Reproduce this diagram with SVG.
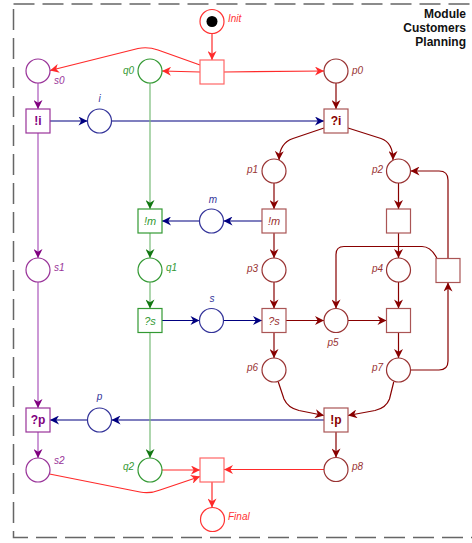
<svg xmlns="http://www.w3.org/2000/svg" width="472" height="543" viewBox="0 0 472 543">
<style>
  .frame{fill:none;stroke:#666;stroke-width:1.5;stroke-dasharray:21 8}
  .title{font:bold 12px "Liberation Sans",Arial,sans-serif;fill:#111;text-anchor:end}
  .lbl{font:italic 10px "Liberation Sans",Arial,sans-serif}
  .tb{font:bold 12px "Liberation Sans",Arial,sans-serif;text-anchor:middle}
  .ti{font:italic 11px "Liberation Sans",Arial,sans-serif;text-anchor:middle}
  circle,rect{fill:#fff;stroke-width:1.2}
  .arc{fill:none;stroke-width:1.2}
  .c-r{stroke:#ff3333}  .t-r{fill:#ff3333}  .a-r{stroke:#ff2a2a;marker-end:url(#ah-r)}  .bx-r{stroke:#ff6666}
  .c-pu{stroke:#993399} .t-pu{fill:#993399} .a-pu{stroke:#aa55bb;marker-end:url(#ah-pu)} .tt-pu{fill:#800080}
  .c-g{stroke:#339933}  .t-g{fill:#339933}  .a-g{stroke:#77bb77;marker-end:url(#ah-g)}
  .c-b{stroke:#333399}  .t-b{fill:#333399}  .a-b{stroke:#000080;marker-end:url(#ah-b)}
  .c-d{stroke:#993333}  .t-d{fill:#993333}  .a-d{stroke:#880000;marker-end:url(#ah-d)} .bx-d{stroke:#aa5555} .tt-d{fill:#880000}
</style>
<defs>
  <marker id="ah-r" viewBox="0 0 10 10" markerWidth="10" markerHeight="9" refX="10" refY="5" orient="auto" markerUnits="userSpaceOnUse"><path d="M0,0 L10,5 L0,10 L3,5 Z" fill="#ff2a2a"/></marker>
  <marker id="ah-pu" viewBox="0 0 10 10" markerWidth="10" markerHeight="9" refX="10" refY="5" orient="auto" markerUnits="userSpaceOnUse"><path d="M0,0 L10,5 L0,10 L3,5 Z" fill="#800080"/></marker>
  <marker id="ah-g" viewBox="0 0 10 10" markerWidth="10" markerHeight="9" refX="10" refY="5" orient="auto" markerUnits="userSpaceOnUse"><path d="M0,0 L10,5 L0,10 L3,5 Z" fill="#117711"/></marker>
  <marker id="ah-b" viewBox="0 0 10 10" markerWidth="10" markerHeight="9" refX="10" refY="5" orient="auto" markerUnits="userSpaceOnUse"><path d="M0,0 L10,5 L0,10 L3,5 Z" fill="#000080"/></marker>
  <marker id="ah-d" viewBox="0 0 10 10" markerWidth="10" markerHeight="9" refX="10" refY="5" orient="auto" markerUnits="userSpaceOnUse"><path d="M0,0 L10,5 L0,10 L3,5 Z" fill="#880000"/></marker>
</defs>

<!-- module frame and title -->
<rect class="frame" x="13.5" y="4" width="480" height="533.5"/>
<text class="title" x="466" y="18">Module</text>
<text class="title" x="466" y="32">Customers</text>
<text class="title" x="466" y="46">Planning</text>

<!-- arcs -->
<g id="connectors">
  <path class="arc a-r" d="M212,33.5 L212,60"/>
  <path class="arc a-r" d="M200,72 L162,71"/>
  <path class="arc a-r" d="M200,65 L158,50 Q148,46.5 138,48.5 L50,70.5"/>
  <path class="arc a-r" d="M224,72 L324,71"/>
  <path class="arc a-d" d="M336,83 L336,109"/>
  <path class="arc a-pu" d="M38,83 L38,109"/>
  <path class="arc a-b" d="M50,121 L87.5,121"/>
  <path class="arc a-b" d="M111.5,121 L324,121"/>
  <path class="arc a-d" d="M324,128 L293,138.5 Q279.5,143 279,160"/>
  <path class="arc a-d" d="M348,128 L381,138.5 Q393,142.5 393,160"/>
  <path class="arc a-d" d="M274,183 L274,209"/>
  <path class="arc a-b" d="M262,221 L223.5,221"/>
  <path class="arc a-b" d="M199.5,221 L162,221"/>
  <path class="arc a-g" d="M150,83 L150,209"/>
  <path class="arc a-g" d="M150,233 L150,258"/>
  <path class="arc a-pu" d="M38,133 L38,258"/>
  <path class="arc a-d" d="M398.5,183 L398.5,209"/>
  <path class="arc a-d" d="M398.5,233 L398.5,258"/>
  <path class="arc a-d" d="M274,233 L274,258"/>
  <path class="arc a-g" d="M150,282 L150,308.5"/>
  <path class="arc a-b" d="M162,320.5 L199.5,320.5"/>
  <path class="arc a-b" d="M223.5,320.5 L262,320.5"/>
  <path class="arc a-d" d="M274,282 L274,308.5"/>
  <path class="arc a-d" d="M286,320.5 L324,320.5"/>
  <path class="arc a-d" d="M348,320.5 L386.5,320.5"/>
  <path class="arc a-d" d="M398.5,282 L398.5,308.5"/>
  <path class="arc a-d" d="M437,258.5 Q431,246.5 422,246.5 L344,246.5 Q336,246.5 336,254.5 L336,308.5"/>
  <path class="arc a-d" d="M448,258.5 L448,180 Q448,171 439,171 L410.5,171"/>
  <path class="arc a-d" d="M398.5,332.5 L398.5,358"/>
  <path class="arc a-d" d="M410.5,370 L439,370 Q448,370 448,361 L448,282.5"/>
  <path class="arc a-d" d="M274,332.5 L274,358"/>
  <path class="arc a-d" d="M278.3,382 L284,399 Q288,408 299,410.5 L324,415.5"/>
  <path class="arc a-d" d="M393.7,382 L389.5,399 Q386,408 375,410.5 L348,415.5"/>
  <path class="arc a-b" d="M324,420 L111.5,420"/>
  <path class="arc a-b" d="M87.5,420 L50,420"/>
  <path class="arc a-pu" d="M38,282 L38,408"/>
  <path class="arc a-pu" d="M38,432 L38,458"/>
  <path class="arc a-d" d="M336,432 L336,457.5"/>
  <path class="arc a-g" d="M150,332.5 L150,458"/>
  <path class="arc a-r" d="M162,470 L200,470"/>
  <path class="arc a-r" d="M324.5,469.5 L224,469.5"/>
  <path class="arc a-r" d="M49.5,474 L140,492 Q150,494 160,490 L200,476.5"/>
  <path class="arc a-r" d="M212,482 L212,507.5"/>
</g>

<!-- places -->
<g id="Init"><circle class="c-r" cx="212" cy="21.5" r="12"/><circle cx="212" cy="21.5" r="5.5" style="fill:#000;stroke:none"/><text class="lbl t-r" x="228" y="22">Init</text></g>
<g id="s0"><circle class="c-pu" cx="38" cy="71" r="12"/><text class="lbl t-pu" x="54" y="83.5">s0</text></g>
<g id="q0"><circle class="c-g" cx="150" cy="71" r="12"/><text class="lbl t-g" x="134" y="73.5" text-anchor="end">q0</text></g>
<g id="p0"><circle class="c-d" cx="336" cy="71" r="12"/><text class="lbl t-d" x="352" y="73.5">p0</text></g>
<g id="i"><circle class="c-b" cx="99.5" cy="121" r="12"/><text class="lbl t-b" x="99.5" y="101.5" text-anchor="middle">i</text></g>
<g id="p1"><circle class="c-d" cx="274" cy="171" r="12"/><text class="lbl t-d" x="258" y="172.5" text-anchor="end">p1</text></g>
<g id="p2"><circle class="c-d" cx="398.5" cy="171" r="12"/><text class="lbl t-d" x="383" y="172.5" text-anchor="end">p2</text></g>
<g id="m"><circle class="c-b" cx="211.5" cy="221" r="12"/><text class="lbl t-b" x="213" y="203" text-anchor="middle">m</text></g>
<g id="s1"><circle class="c-pu" cx="38" cy="270" r="12"/><text class="lbl t-pu" x="54" y="271">s1</text></g>
<g id="q1"><circle class="c-g" cx="150" cy="270" r="12"/><text class="lbl t-g" x="166" y="271">q1</text></g>
<g id="p3"><circle class="c-d" cx="274" cy="270" r="12"/><text class="lbl t-d" x="258" y="272" text-anchor="end">p3</text></g>
<g id="p4"><circle class="c-d" cx="398.5" cy="270" r="12"/><text class="lbl t-d" x="383" y="272" text-anchor="end">p4</text></g>
<g id="s"><circle class="c-b" cx="211.5" cy="320.5" r="12"/><text class="lbl t-b" x="212" y="302" text-anchor="middle">s</text></g>
<g id="p5"><circle class="c-d" cx="336" cy="320.5" r="12"/><text class="lbl t-d" x="333" y="346" text-anchor="middle">p5</text></g>
<g id="p6"><circle class="c-d" cx="274" cy="370" r="12"/><text class="lbl t-d" x="258" y="371" text-anchor="end">p6</text></g>
<g id="p7"><circle class="c-d" cx="398.5" cy="370" r="12"/><text class="lbl t-d" x="383" y="371" text-anchor="end">p7</text></g>
<g id="p"><circle class="c-b" cx="99.5" cy="420" r="12"/><text class="lbl t-b" x="99.5" y="399.5" text-anchor="middle">p</text></g>
<g id="s2"><circle class="c-pu" cx="38" cy="470" r="12"/><text class="lbl t-pu" x="54" y="463.5">s2</text></g>
<g id="q2"><circle class="c-g" cx="150" cy="470" r="12"/><text class="lbl t-g" x="134" y="470" text-anchor="end">q2</text></g>
<g id="p8"><circle class="c-d" cx="336" cy="469.5" r="12"/><text class="lbl t-d" x="352" y="470">p8</text></g>
<g id="Final"><circle class="c-r" cx="212.5" cy="519.5" r="12"/><text class="lbl t-r" x="228" y="519.5">Final</text></g>

<!-- transitions -->
<g id="t_init"><rect class="bx-r" x="200" y="60" width="24" height="24"/></g>
<g id="t_send_i"><rect class="c-pu" x="26" y="109" width="24" height="24"/><text class="tb tt-pu" x="38" y="125">!i</text></g>
<g id="t_recv_i"><rect class="bx-d" x="324" y="109" width="24" height="24"/><text class="tb tt-d" x="336" y="125">?i</text></g>
<g id="t_m_cust"><rect class="c-g" x="138" y="209" width="24" height="24"/><text class="ti t-g" x="150" y="225">!m</text></g>
<g id="t_m_plan"><rect class="bx-d" x="262" y="209" width="24" height="24"/><text class="ti t-d" x="274" y="225">!m</text></g>
<g id="t_p2"><rect class="bx-d" x="386.5" y="209" width="24" height="24"/></g>
<g id="t_loop"><rect class="bx-d" x="436" y="258.5" width="24" height="24"/></g>
<g id="t_s_cust"><rect class="c-g" x="138" y="308.5" width="24" height="24"/><text class="ti t-g" x="150" y="324.5">?s</text></g>
<g id="t_s_plan"><rect class="bx-d" x="262" y="308.5" width="24" height="24"/><text class="ti t-d" x="274" y="324.5">?s</text></g>
<g id="t_p5"><rect class="bx-d" x="386.5" y="308.5" width="24" height="24"/></g>
<g id="t_recv_p"><rect class="c-pu" x="26" y="408" width="24" height="24"/><text class="tb tt-pu" x="38" y="424">?p</text></g>
<g id="t_send_p"><rect class="bx-d" x="324" y="408" width="24" height="24"/><text class="tb tt-d" x="336" y="424">!p</text></g>
<g id="t_final"><rect class="bx-r" x="200" y="458" width="24" height="24"/></g>
</svg>
